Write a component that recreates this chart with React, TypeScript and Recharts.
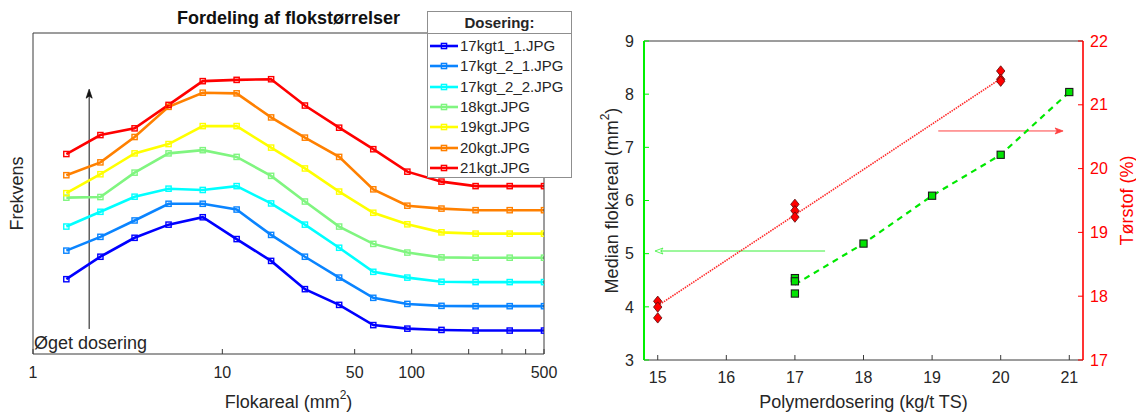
import React from 'react';
import {
  LineChart,
  ComposedChart,
  Line,
  Scatter,
  XAxis,
  YAxis,
  Legend,
  ReferenceLine,
  ReferenceDot,
} from 'recharts';

const FONT = '"Liberation Sans", Arial, Helvetica, sans-serif';
const INK = '#262626';
const FRAME = '#3a3a3a';

// ---- left panel: floc size distribution ----
const flocSizes = [1.5, 2.27, 3.44, 5.2, 7.88, 11.9, 18.1, 27.3, 41.4, 62.7, 94.9, 143.7, 217.6, 329.5, 500];
const sizeTicks = [1, 10, 50, 100, 200, 300, 400, 500];
const sizeLabels = [1, 10, 50, 100, 500];

const seriesNames = ['17kgt1_1.JPG', '17kgt_2_1.JPG', '17kgt_2_2.JPG', '18kgt.JPG', '19kgt.JPG', '20kgt.JPG', '21kgt.JPG'];
const seriesColors = ['#0000FF', '#0A84FF', '#00FFFF', '#80F580', '#FFFF00', '#FF8000', '#FF0000'];

const freq17_1_1 = [23.3, 30.3, 36.2, 40.3, 42.6, 35.8, 29.0, 20.2, 15.3, 9.0, 7.9, 7.5, 7.3, 7.3, 7.3];
const freq17_2_1 = [32.2, 36.5, 41.6, 46.8, 46.8, 45.0, 37.1, 30.3, 23.8, 17.5, 15.6, 15.0, 14.9, 14.9, 14.9];
const freq17_2_2 = [39.7, 44.3, 49.0, 51.5, 51.1, 52.3, 46.9, 40.3, 33.1, 25.6, 23.8, 22.5, 22.4, 22.4, 22.4];
const freq18 = [48.7, 48.9, 56.5, 62.5, 63.5, 61.4, 55.5, 47.5, 39.7, 34.3, 31.6, 30.1, 30.0, 30.0, 30.0];
const freq19 = [50.1, 56.0, 62.5, 65.4, 71.0, 71.0, 64.3, 57.8, 50.6, 44.0, 40.4, 37.9, 37.5, 37.5, 37.5];
const freq20 = [55.7, 59.7, 67.6, 77.0, 81.4, 81.2, 73.7, 67.4, 61.4, 51.3, 46.2, 45.3, 44.8, 44.8, 44.8];
const freq21 = [62.3, 68.2, 70.3, 77.6, 85.0, 85.4, 85.6, 77.4, 70.5, 63.8, 56.8, 53.7, 52.3, 52.3, 52.3];

const doseArrow = [{ x: 1.98, y: 7.8 }, { x: 1.98, y: 82.5 }];

// ---- right panel: median floc area and dry solids vs dose ----
const doseTicks = [15, 16, 17, 18, 19, 20, 21];
const areaTicks = [3, 4, 5, 6, 7, 8, 9];
const tsTicks = [17, 18, 19, 20, 21, 22];

const medianDose = [17, 17, 17, 18, 19, 20, 21];
const medianArea = [4.54, 4.48, 4.25, 5.19, 6.09, 6.86, 8.04];
const meanDose = [17, 18, 19, 20, 21];
const meanArea = [4.42, 5.19, 6.09, 6.86, 8.04];
const tsDose = [15, 15, 15, 17, 17, 17, 20, 20, 20];
const tsPct = [17.92, 17.83, 17.66, 19.44, 19.34, 19.24, 21.53, 21.40, 21.37];
const fitDose = [15, 20];
const fitPct = [17.85, 21.41];

const greenArrow = [{ x: 17.44, y: 5.05 }, { x: 14.96, y: 5.05 }];
const redArrow = [{ x: 19.09, y: 20.59 }, { x: 20.91, y: 20.59 }];

const flocSeries = [freq17_1_1, freq17_2_1, freq17_2_2, freq18, freq19, freq20, freq21];
const flocTable = flocSizes.map((size, i) => {
  const row: Record<string, number> = { size };
  flocSeries.forEach((vals, k) => {
    row['s' + k] = vals[i];
  });
  return row;
});

const zip = (xs: number[], ys: number[]) => xs.map((x, i) => ({ x, y: ys[i] }));
const medianPts = zip(medianDose, medianArea);
const meanPts = zip(meanDose, meanArea);
const tsPts = zip(tsDose, tsPct);
const fitPts = zip(fitDose, fitPct);

const squareDot = (color: string) => (p: any) => (
  <rect
    key={'d' + p.index}
    x={p.cx - 2.6}
    y={p.cy - 2.6}
    width={5.2}
    height={5.2}
    fill="none"
    stroke={color}
    strokeWidth={1.4}
  />
);

const arrowShape = (color: string, width: number, len: number, half: number, filled: boolean) => (p: any) => {
  const { x1, y1, x2, y2 } = p;
  const a = Math.atan2(y2 - y1, x2 - x1);
  const bx = x2 - len * Math.cos(a);
  const by = y2 - len * Math.sin(a);
  const nx = -Math.sin(a) * half;
  const ny = Math.cos(a) * half;
  const head = `${x2},${y2} ${bx + nx},${by + ny} ${bx + (x2 - bx) * 0.25},${by + (y2 - by) * 0.25} ${bx - nx},${by - ny}`;
  return (
    <g>
      <line x1={x1} y1={y1} x2={bx + (x2 - bx) * 0.3} y2={by + (y2 - by) * 0.3} stroke={color} strokeWidth={width} />
      <polygon points={head} fill={filled ? color : 'none'} stroke={color} strokeWidth={0.8} />
    </g>
  );
};

function SupText({ x, y, base, fill, rotate }: any) {
  return (
    <text
      x={x}
      y={y}
      textAnchor="middle"
      dominantBaseline="central"
      fill={fill}
      fontSize={18}
      fontFamily={FONT}
      transform={rotate ? `rotate(-90 ${x} ${y})` : undefined}
    >
      <tspan>{base}</tspan>
      <tspan dy={-7} fontSize={12}>2</tspan>
      <tspan dy={7}>)</tspan>
    </text>
  );
}

function DoseLegend({ payload }: any) {
  return (
    <div
      style={{
        width: 145,
        height: 167,
        border: '1px solid #8f8f8f',
        background: '#fff',
        boxSizing: 'border-box',
        fontFamily: FONT,
        color: INK,
      }}
    >
      <div
        style={{
          height: 21,
          borderBottom: '1px solid #8f8f8f',
          textAlign: 'center',
          fontWeight: 'bold',
          fontSize: 15,
          lineHeight: '22px',
        }}
      >
        Dosering:
      </div>
      <div style={{ paddingTop: 2 }}>
        {(payload ?? []).map((e: any) => (
          <div key={e.value} style={{ height: 20.3, display: 'flex', alignItems: 'center' }}>
            <svg width={32} height={10} style={{ flex: 'none' }}>
              <line x1={2} x2={30} y1={5} y2={5} stroke={e.color} strokeWidth={2.6} />
              <rect x={13.4} y={2.4} width={5.2} height={5.2} fill="none" stroke={e.color} strokeWidth={1.4} />
            </svg>
            <span style={{ fontSize: 15, lineHeight: '20px', whiteSpace: 'nowrap' }}>{e.value}</span>
          </div>
        ))}
      </div>
    </div>
  );
}

function FlocChart() {
  return (
    <LineChart width={580} height={412} data={flocTable} margin={{ top: 8, right: 26, bottom: 18, left: 13 }}>
      <XAxis
        dataKey="size"
        type="number"
        scale="log"
        domain={[1, 500]}
        ticks={sizeTicks}
        allowDataOverflow
        height={40}
        tickSize={-5}
        tickMargin={18}
        stroke={FRAME}
        tick={{ fill: INK, fontSize: 16, fontFamily: FONT }}
        tickFormatter={(v: number) => (sizeLabels.includes(v) ? String(v) : '')}
        label={(p: any) => (
          <SupText x={p.viewBox.x + p.viewBox.width / 2} y={402} base="Flokareal (mm" fill={INK} />
        )}
      />
      <XAxis
        xAxisId="top"
        orientation="top"
        dataKey="size"
        type="number"
        scale="log"
        domain={[1, 500]}
        ticks={sizeTicks}
        allowDataOverflow
        height={25}
        tickSize={-5}
        tick={false}
        stroke={FRAME}
        label={(p: any) => (
          <text
            x={p.viewBox.x + p.viewBox.width / 2}
            y={18}
            textAnchor="middle"
            dominantBaseline="central"
            fontWeight="bold"
            fontSize={18}
            fontFamily={FONT}
            fill="#111"
          >
            Fordeling af flokstørrelser
          </text>
        )}
      />
      <YAxis
        type="number"
        domain={[0, 100]}
        allowDataOverflow
        width={20}
        tick={false}
        tickLine={false}
        stroke={FRAME}
        label={(p: any) => {
          const x = 17;
          const y = p.viewBox.y + p.viewBox.height / 2;
          return (
            <text
              x={x}
              y={y}
              textAnchor="middle"
              dominantBaseline="central"
              fontSize={18}
              fontFamily={FONT}
              fill={INK}
              transform={`rotate(-90 ${x} ${y})`}
            >
              Frekvens
            </text>
          );
        }}
      />
      <YAxis yAxisId="r" orientation="right" type="number" domain={[0, 100]} width={10} tick={false} tickLine={false} stroke={FRAME} />
      <Legend
        layout="vertical"
        align="center"
        verticalAlign="middle"
        wrapperStyle={{ left: 427, top: 11, width: 145, height: 167 }}
        content={(props: any) => <DoseLegend payload={props.payload} />}
      />
      <ReferenceLine segment={doseArrow} shape={arrowShape('#111', 1, 9, 3, true)} ifOverflow="visible" />
      <ReferenceDot
        x={1}
        y={0}
        ifOverflow="visible"
        shape={(p: any) => (
          <text x={p.cx + 1} y={p.cy - 5} fontSize={18} fontFamily={FONT} fill={INK}>
            Øget dosering
          </text>
        )}
      />
      {seriesNames.map((name, k) => (
        <Line
          key={name}
          dataKey={'s' + k}
          name={name}
          stroke={seriesColors[k]}
          strokeWidth={2.6}
          dot={squareDot(seriesColors[k])}
          activeDot={false}
          isAnimationActive={false}
        />
      ))}
    </LineChart>
  );
}

function DoseChart() {
  return (
    <ComposedChart width={556} height={412} margin={{ top: 11, right: 13, bottom: 12, left: 24 }}>
      <XAxis
        dataKey="x"
        type="number"
        domain={[14.8, 21.2]}
        ticks={doseTicks}
        allowDataOverflow
        height={40}
        tickSize={-5}
        tickMargin={17}
        stroke={FRAME}
        tick={{ fill: INK, fontSize: 16, fontFamily: FONT }}
        label={(p: any) => (
          <text
            x={p.viewBox.x + p.viewBox.width / 2}
            y={402}
            textAnchor="middle"
            dominantBaseline="central"
            fontSize={18}
            fontFamily={FONT}
            fill={INK}
          >
            Polymerdosering (kg/t TS)
          </text>
        )}
      />
      <XAxis
        xAxisId="top"
        orientation="top"
        dataKey="x"
        type="number"
        domain={[14.8, 21.2]}
        ticks={doseTicks}
        allowDataOverflow
        height={30}
        tickSize={-5}
        tick={false}
        stroke={FRAME}
      />
      <YAxis
        yAxisId="area"
        dataKey="y"
        type="number"
        domain={[3, 9]}
        ticks={areaTicks}
        allowDataOverflow
        width={40}
        tickSize={-5}
        tickMargin={15}
        stroke="#00F000"
        axisLine={{ stroke: '#00F000', strokeWidth: 2 }}
        tick={{ fill: INK, fontSize: 16, fontFamily: FONT }}
        label={(p: any) => (
          <SupText x={31.5} y={p.viewBox.y + p.viewBox.height / 2} base="Median flokareal (mm" fill={INK} rotate />
        )}
      />
      <YAxis
        yAxisId="ts"
        orientation="right"
        dataKey="y"
        type="number"
        domain={[17, 22]}
        ticks={tsTicks}
        allowDataOverflow
        width={40}
        tickSize={-5}
        tickMargin={12}
        stroke="#FF0000"
        axisLine={{ stroke: '#FF0000', strokeWidth: 1.6 }}
        tick={{ fill: '#FF0000', fontSize: 16, fontFamily: FONT }}
        label={(p: any) => {
          const x = 547;
          const y = p.viewBox.y + p.viewBox.height / 2;
          return (
            <text
              x={x}
              y={y}
              textAnchor="middle"
              dominantBaseline="central"
              fontSize={18}
              fontFamily={FONT}
              fill="#FF0000"
              transform={`rotate(-90 ${x} ${y})`}
            >
              Tørstof (%)
            </text>
          );
        }}
      />
      <ReferenceLine yAxisId="area" segment={greenArrow} shape={arrowShape('#3AF03A', 1, 8, 3, false)} ifOverflow="visible" />
      <ReferenceLine yAxisId="ts" segment={redArrow} shape={arrowShape('#FF4040', 1, 8, 3, true)} ifOverflow="visible" />
      <Line
        yAxisId="ts"
        data={fitPts}
        dataKey="y"
        stroke="#FF2a2a"
        strokeWidth={1.6}
        strokeDasharray="1.5 1"
        dot={false}
        activeDot={false}
        isAnimationActive={false}
      />
      <Line
        yAxisId="area"
        data={meanPts}
        dataKey="y"
        stroke="#00E800"
        strokeWidth={2.2}
        strokeDasharray="6 5"
        dot={false}
        activeDot={false}
        isAnimationActive={false}
      />
      <Scatter
        yAxisId="area"
        data={medianPts}
        dataKey="y"
        isAnimationActive={false}
        shape={(p: any) => (
          <rect x={p.cx - 3.6} y={p.cy - 3.6} width={7.2} height={7.2} fill="#00E400" stroke="#1a1a1a" strokeWidth={1.1} />
        )}
      />
      <Scatter
        yAxisId="ts"
        data={tsPts}
        dataKey="y"
        isAnimationActive={false}
        shape={(p: any) => (
          <polygon
            points={`${p.cx},${p.cy - 5.2} ${p.cx + 4.2},${p.cy} ${p.cx},${p.cy + 5.2} ${p.cx - 4.2},${p.cy}`}
            fill="#FF0000"
            stroke="#5a0a0a"
            strokeWidth={0.8}
          />
        )}
      />
    </ComposedChart>
  );
}

export default function App() {
  return (
    <div style={{ position: 'absolute', left: 0, top: 0, width: 1136, height: 412, background: '#fff', fontFamily: FONT }}>
      <div style={{ position: 'absolute', left: 0, top: 0 }}>
        <FlocChart />
      </div>
      <div style={{ position: 'absolute', left: 580, top: 0 }}>
        <DoseChart />
      </div>
    </div>
  );
}
